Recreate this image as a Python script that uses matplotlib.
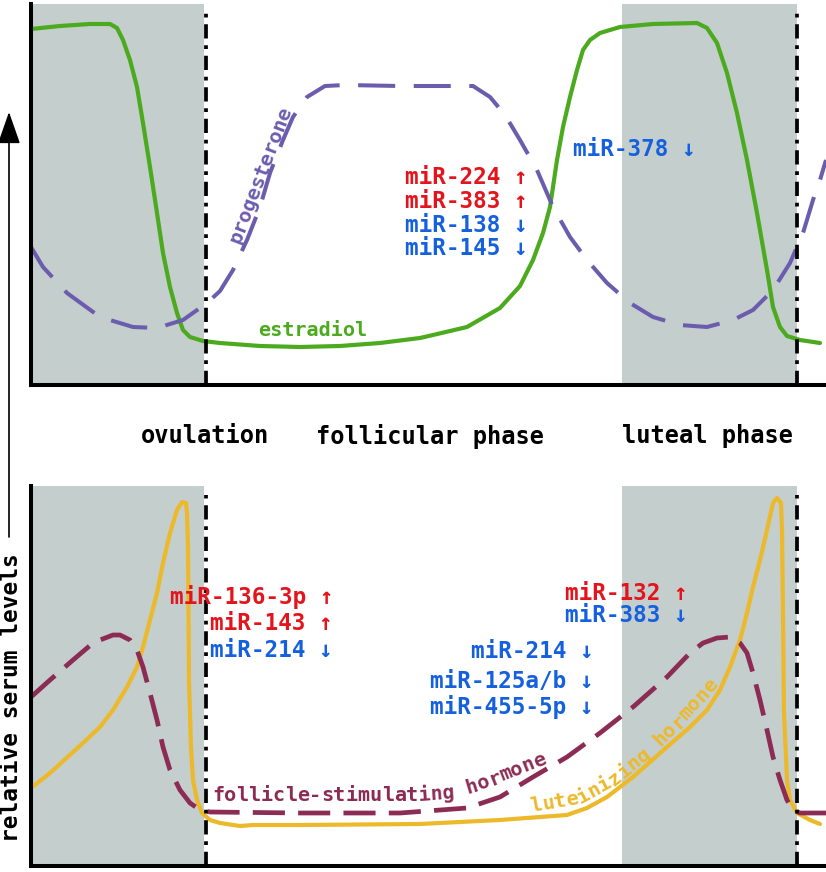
import matplotlib
matplotlib.use("Agg")
import matplotlib.pyplot as plt
import numpy as np
from matplotlib.patches import FancyArrowPatch

# ---------------- data (x = position in cycle, y = relative serum level) -------------
estradiol_x = [0, 29, 59, 79, 86, 92, 99, 106, 112, 119, 126, 132, 139, 146, 152, 159, 172, 189,
               229, 269, 309, 349, 389, 402, 436, 469, 489, 502, 512, 519, 522, 526, 532, 539,
               546, 552, 559, 569, 589, 622, 666, 676, 686, 696, 706, 716, 726, 736, 742, 749,
               756, 769, 789]
estradiol_y = [356, 359, 361, 361, 357, 345, 325, 298, 262, 218, 172, 132, 98, 72, 55, 48, 44, 42,
               39, 38, 39, 42, 47, 50, 58, 77, 99, 125, 152, 178, 198, 225, 258, 288,
               315, 335, 345, 352, 358, 361, 362, 357, 342, 312, 272, 225, 172, 115, 78, 58,
               49, 45, 42]

progesterone_x = [0, 12, 36, 69, 102, 126, 152, 176, 189, 202, 216, 229, 239, 252, 262, 276, 294,
                  314, 369, 442, 459, 474, 489, 506, 522, 539, 556, 576, 599, 622, 649, 676, 702,
                  722, 742, 759, 772, 782, 789, 795]
progesterone_y = [138, 118, 92, 68, 58, 57, 65, 82, 94, 115, 145, 178, 212, 245, 268, 288, 299,
                  300, 299, 299, 288, 270, 245, 215, 178, 148, 125, 102, 82, 68, 60, 58, 65,
                  75, 95, 122, 152, 185, 205, 225]

lh_x = [0, 19, 52, 69, 82, 96, 106, 112, 119, 126, 132, 139, 146, 151, 155, 156, 157, 157.5, 158,
        160, 162, 166, 171, 179, 189, 209, 222, 269, 389, 469, 536, 556, 576, 602, 636, 659, 676,
        689, 699, 709, 716, 722, 729, 736, 742, 746, 750, 751, 752, 753, 756, 759, 766, 779, 789]
lh_y = [78, 93, 123, 139, 156, 179, 199, 219, 246, 273, 303, 333, 356, 364, 363, 353, 319, 253, 186,
        119, 86, 66, 53, 46, 43, 40, 41, 41, 42, 46, 51, 58, 69, 89, 119, 139, 156,
        176, 199, 226, 253, 279, 306, 336, 363, 368, 363, 336, 253, 153, 86, 66, 53, 46, 42]

fsh_x = [0, 19, 42, 62, 69, 82, 89, 99, 106, 112, 119, 126, 132, 139, 149, 159, 169, 179, 269, 369,
         436, 469, 502, 536, 569, 602, 636, 659, 672, 686, 699, 709, 716, 722, 729, 736, 742, 749,
         756, 762, 769, 795]
fsh_y = [169, 186, 206, 223, 226, 231, 231, 226, 216, 199, 173, 146, 119, 96, 76, 63, 56, 54, 53, 53,
         58, 69, 89, 109, 133, 159, 189, 213, 223, 228, 229, 223, 213, 193, 166, 136, 109, 86,
         66, 56, 53, 53]

shade_spans = [(0, 173), (591, 766)]
boundary_x = [175, 766]

phase_labels = ["ovulation", "follicular phase", "luteal phase"]
ylabel = "relative serum levels"

top_mirs = [("miR-224 ↑", "up"), ("miR-383 ↑", "up"), ("miR-138 ↓", "down"), ("miR-145 ↓", "down")]
top_mirs2 = [("miR-378 ↓", "down")]
bot_mirs_left = [("miR-136-3p ↑", "up"), ("miR-143 ↑", "up"), ("miR-214 ↓", "down")]
bot_mirs_mid = [("miR-214 ↓", "down"), ("miR-125a/b ↓", "down"), ("miR-455-5p ↓", "down")]
bot_mirs_right = [("miR-132 ↑", "up"), ("miR-383 ↓", "down")]

# ---------------- style ----------------
W, H = 826, 872
C_GREEN = "#4caa1f"
C_PURPLE = "#6b5cae"
C_YELLOW = "#ecb92a"
C_MAROON = "#8c2c55"
C_RED = "#e3141b"
C_BLUE = "#1460de"
C_GREY = "#c4cecd"
FONT = ["DejaVu Sans Mono", "DejaVu Sans"]
mir_col = {"up": C_RED, "down": C_BLUE}

fig = plt.figure(figsize=(W / 100, H / 100), dpi=100)


def ax_at(l, t, r, b):
    return fig.add_axes([l / W, 1 - b / H, (r - l) / W, (b - t) / H])


def ftext(x, y, s, **kw):
    kw.setdefault("family", FONT)
    return fig.text(x / W, 1 - y / H, s, **kw)


def path_text(s, pts, size, color, weight="bold"):
    pts = np.asarray(pts, float)
    seg = np.diff(pts, axis=0)
    seglen = np.hypot(seg[:, 0], seg[:, 1])
    cum = np.concatenate([[0], np.cumsum(seglen)])
    adv = size * 100 / 72 * 0.602
    for i, ch in enumerate(s):
        sdist = (i + 0.5) * adv
        k = min(np.searchsorted(cum, sdist, side="right") - 1, len(seglen) - 1)
        t = (sdist - cum[k]) / seglen[k]
        x, y = pts[k] + t * seg[k]
        ang = np.degrees(np.arctan2(-seg[k, 1], seg[k, 0]))
        ftext(x, y, ch, fontsize=size, color=color, weight=weight, ha="center",
              va="center", rotation=ang, rotation_mode="anchor")


top = ax_at(31, 4, 826, 385)
bot = ax_at(31, 486, 826, 866)
for ax, ymax, dtop in [(top, 381, 373), (bot, 380, 371)]:
    ax.set_xlim(0, 795)
    ax.set_ylim(0, ymax)
    ax.set_facecolor("none")
    for sp in ["top", "right"]:
        ax.spines[sp].set_visible(False)
    for sp in ["left", "bottom"]:
        ax.spines[sp].set_linewidth(2.9)
        ax.spines[sp].set_color("black")
        ax.spines[sp].set_zorder(6)
    ax.set_xticks([])
    ax.set_yticks([])
    for a, b in shade_spans:
        ax.axvspan(a, b, color=C_GREY, lw=0, zorder=0)
    for bx in boundary_x:
        ax.plot([bx, bx], [0, dtop], color="black", lw=2.7,
                linestyle=(0, (3.8, 1.8, 1.0, 1.8)), dash_capstyle="butt", zorder=5)

top.plot(estradiol_x, estradiol_y, color=C_GREEN, lw=3.0, solid_capstyle="round",
         solid_joinstyle="round", zorder=3)
top.plot(progesterone_x, progesterone_y, color=C_PURPLE, lw=2.9,
         linestyle=(0, (9.2, 4.6)), dash_capstyle="butt", zorder=3)
bot.plot(lh_x, lh_y, color=C_YELLOW, lw=3.0, solid_capstyle="round",
         solid_joinstyle="round", zorder=3)
bot.plot(fsh_x, fsh_y, color=C_MAROON, lw=3.4,
         linestyle=(0, (6.8, 2.8)), dash_capstyle="butt", zorder=3)

# curve labels
ftext(258, 330, "estradiol", fontsize=14.5, color=C_GREEN, weight="bold", ha="left", va="center")
ftext(261, 175, "progesterone", fontsize=14.5, color=C_PURPLE, weight="bold", ha="center",
      va="center", rotation=69, rotation_mode="anchor")
path_text("follicle-stimulating hormone",
          [(212, 795), (420, 795), (450, 793), (480, 784), (540, 760), (570, 745)],
          14.5, C_MAROON)
path_text("luteinizing hormone",
          [(530, 807), (580, 798), (613, 780), (647, 753), (680, 720), (710, 687), (740, 650)],
          14.5, C_YELLOW)

# miRNA labels
MS = 16.3
for (s, d), y in zip(top_mirs, [177, 201, 225, 248]):
    ftext(405, y, s, fontsize=MS, color=mir_col[d], weight="bold", ha="left", va="center")
for (s, d), y in zip(top_mirs2, [150]):
    ftext(573, y, s, fontsize=MS, color=mir_col[d], weight="bold", ha="left", va="center")
for (s, d), y in zip(bot_mirs_left, [597, 623, 650]):
    ftext(333, y, s, fontsize=MS, color=mir_col[d], weight="bold", ha="right", va="center")
for (s, d), y in zip(bot_mirs_mid, [651, 681, 707]):
    ftext(594, y, s, fontsize=MS, color=mir_col[d], weight="bold", ha="right", va="center")
for (s, d), y in zip(bot_mirs_right, [593, 615]):
    ftext(565, y, s, fontsize=MS, color=mir_col[d], weight="bold", ha="left", va="center")

# phase labels
for s, x in zip(phase_labels, [205, 430, 707]):
    ftext(x, 436, s, fontsize=17, color="black", weight="bold", ha="center", va="center")

# y label with arrow
ftext(0, 698, ylabel, fontsize=16.5, color="black", weight="bold", ha="left", va="center",
      rotation=90)
arr = FancyArrowPatch((9 / W, 1 - 537 / H), (9 / W, 1 - 112 / H), transform=fig.transFigure,
                      arrowstyle="-|>,head_length=1.0,head_width=0.35", mutation_scale=20,
                      lw=1.2, color="black", shrinkA=0, shrinkB=0)
fig.patches.append(arr)

fig.savefig("out.png", dpi=100)
